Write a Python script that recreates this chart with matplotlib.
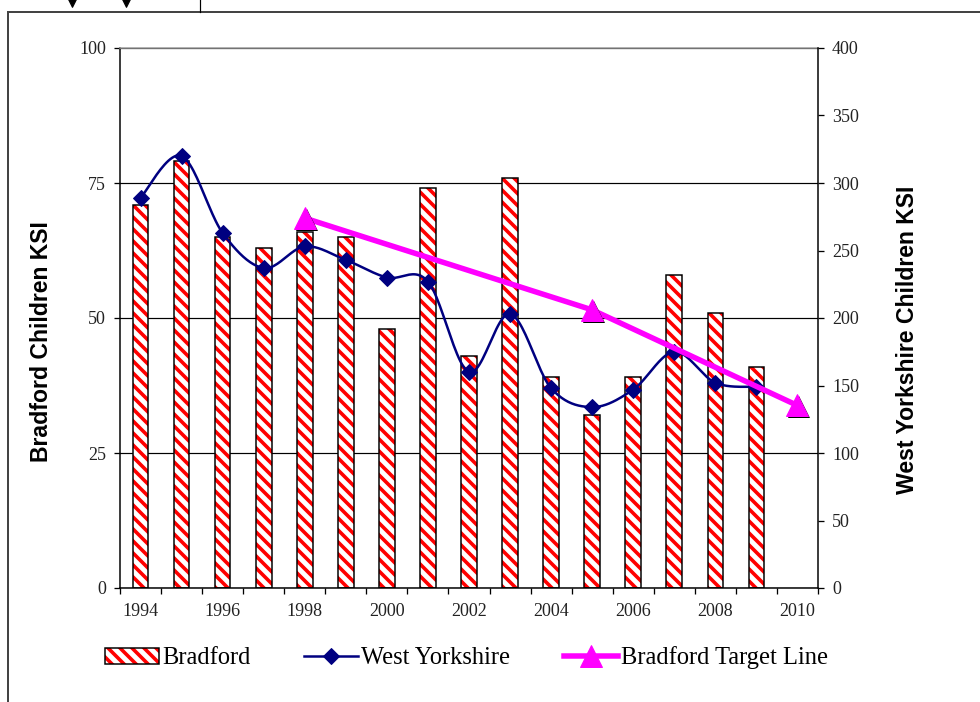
import matplotlib
matplotlib.use('Agg')
import matplotlib.pyplot as plt
import matplotlib.patheffects as pe
from matplotlib.lines import Line2D
from matplotlib.patches import Patch
from matplotlib.legend_handler import HandlerTuple
import numpy as np

years = list(range(1994, 2011))
bradford = [71, 79, 65, 63, 66, 65, 48, 74, 43, 76, 39, 32, 39, 58, 51, 41]
west_yorkshire = [289, 320, 263, 237, 253, 243, 230, 227, 160, 203, 148, 134, 147, 175, 152, 149]
target_years = [1998, 2005, 2010]
target = [68.5, 51.5, 33.8]
year_labels = [str(y) for y in years[::2]]

W, H = 980, 702
plt.rcParams['hatch.linewidth'] = 3.6


def smooth(x, y, n=25):
    # excel-style smoothed line (bezier through the points)
    pts = np.column_stack([x, y]).astype(float)
    p = np.vstack([pts[0], pts, pts[-1]])
    t = np.linspace(0, 1, n)[:, None]
    out = []
    for i in range(len(pts) - 1):
        p0, p1, p2, p3 = p[i], p[i + 1], p[i + 2], p[i + 3]
        c1 = p1 + (p2 - p0) / 6
        c2 = p2 - (p3 - p1) / 6
        seg = (1 - t)**3 * p1 + 3 * (1 - t)**2 * t * c1 + 3 * (1 - t) * t**2 * c2 + t**3 * p2
        out.append(seg if i == 0 else seg[1:])
    return np.vstack(out)


fig = plt.figure(figsize=(W / 72, H / 72), dpi=72)
rect = [120 / W, 114 / H, 698 / W, 540 / H]
ax = fig.add_axes(rect)

xb = np.arange(len(bradford))
ax.bar(xb, bradford, width=0.38, color='white', edgecolor='red', linewidth=0, hatch='\\\\', zorder=2)
ax.bar(xb, bradford, width=0.38, fill=False, edgecolor='black', linewidth=1.5, zorder=3)

ax.set_xlim(-0.5, len(years) - 0.5)
ax.set_ylim(0, 100)
ax.set_yticks([0, 25, 50, 75, 100])
ax.yaxis.grid(True, color='black', linewidth=1.2)
ax.set_axisbelow(True)
ax.set_xticks(np.arange(-0.5, len(years), 1))
ax.set_xticklabels([])
ax.set_xticks(np.arange(0, len(years), 2), minor=True)
ax.set_xticklabels(year_labels, minor=True, family='Liberation Serif', fontsize=18, color='#222222')
ax.tick_params(axis='x', which='major', length=6, width=1.3, direction='out')
ax.tick_params(axis='x', which='minor', length=0, pad=15)
ax.tick_params(axis='y', length=6, width=1.3, pad=8)
for lab in ax.get_yticklabels():
    lab.set_family('Liberation Serif')
    lab.set_fontsize(18)
    lab.set_color('#222222')
ax.spines['top'].set_color('#9a9a9a')
ax.spines['right'].set_visible(False)
for s in ['left', 'bottom', 'top']:
    ax.spines[s].set_linewidth(1.5)

ax2 = ax.twinx()
ax2.set_ylim(0, 400)
ax2.set_yticks(np.arange(0, 401, 50))
ax2.tick_params(axis='y', length=6, width=1.3, pad=8)
for lab in ax2.get_yticklabels():
    lab.set_family('Liberation Serif')
    lab.set_fontsize(18)
    lab.set_color('#222222')
for s in ['left', 'bottom', 'top']:
    ax2.spines[s].set_visible(False)
ax2.spines['right'].set_linewidth(1.5)

xw = np.arange(len(west_yorkshire))
curve = smooth(xw, west_yorkshire)
ax2.plot(curve[:, 0], curve[:, 1], color='#000080', linewidth=2.5, zorder=3)
ax2.plot(xw, west_yorkshire, linestyle='none', marker='D', markersize=12, color='#000080', zorder=4)

ax3 = fig.add_axes(rect, sharex=ax, sharey=ax)
ax3.axis('off')
xt = [y - years[0] for y in target_years]
ax3.plot(xt, target, color='#FF00FF', linewidth=5.5, solid_capstyle='butt')
ax3.plot(xt, target, linestyle='none', marker='^', markersize=22, color='#FF00FF',
         path_effects=[pe.SimplePatchShadow(offset=(2, -2), shadow_rgbFace='black', alpha=1.0), pe.Normal()])

fig.text(42 / W, 1 - 342 / H, 'Bradford Children KSI', rotation=90, ha='center', va='center',
         family='Liberation Sans', fontweight='bold', fontsize=23)
fig.text(907 / W, 1 - 340 / H, 'West Yorkshire Children KSI', rotation=90, ha='center', va='center',
         family='Liberation Sans', fontweight='bold', fontsize=23)

h_bar = (Patch(facecolor='white', edgecolor='red', linewidth=0, hatch='\\\\'),
         Patch(fill=False, edgecolor='black', linewidth=1.5))
h_wy = Line2D([], [], color='#000080', linewidth=2.5, marker='D', markersize=12)
h_tg = Line2D([], [], color='#FF00FF', linewidth=5.5, marker='^', markersize=22)
fig.legend([h_bar, h_wy, h_tg], ['Bradford', 'West Yorkshire', 'Bradford Target Line'],
           handler_map={tuple: HandlerTuple(ndivide=1)},
           loc='center left', bbox_to_anchor=(105 / W, 1 - 658 / H), ncol=3, frameon=False,
           prop={'family': 'Liberation Serif', 'size': 24.5}, handlelength=2.2, handleheight=0.65,
           handletextpad=0.12, columnspacing=2.2, borderpad=0, borderaxespad=0, numpoints=1)

# page border and clipped bits of the chart above
fig.add_artist(Line2D([8 / W, 8 / W], [0, 1 - 12 / H], color='#444444', linewidth=2))
fig.add_artist(Line2D([8 / W, 1], [1 - 12 / H, 1 - 12 / H], color='#444444', linewidth=2))
fig.add_artist(Line2D([72 / W, 126 / W], [1 - 2 / H, 1 - 2 / H], linestyle='none', marker='v',
                      markersize=10, color='black'))
fig.add_artist(Line2D([200 / W, 200 / W], [1 - 12 / H, 1], color='black', linewidth=1.2))

fig.savefig('out.png', dpi=72)
